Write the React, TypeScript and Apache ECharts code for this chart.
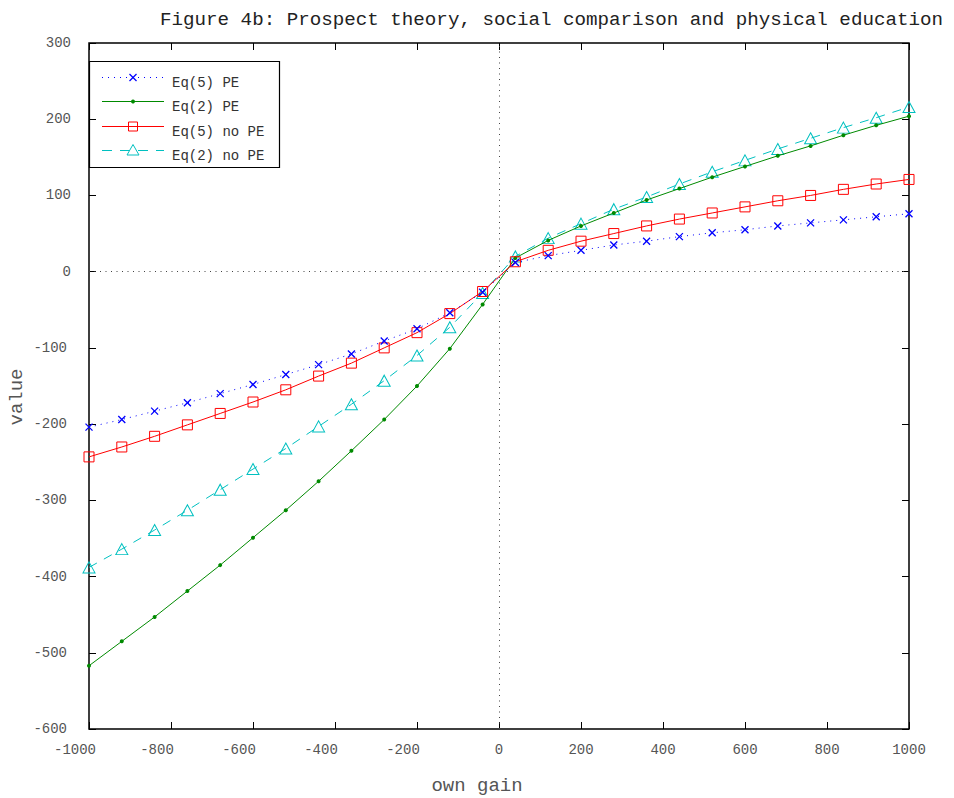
import React, { useEffect, useRef } from "react";
import * as echarts from "echarts";

const xValues = [-1000, -920, -840, -760, -680, -600, -520, -440, -360, -280, -200, -120, -40, 40, 120, 200, 280, 360, 440, 520, 600, 680, 760, 840, 920, 1000];
const eq5PE = [-204, -194, -183, -172, -160, -148, -135, -122, -108, -91, -75, -54, -27, 12, 21, 28, 35, 40, 46, 51, 55, 60, 64, 68, 72, 76];
const eq2PE = [-517, -485, -453, -419, -385, -349, -313, -275, -235, -194, -150, -101, -43, 18, 41, 60, 77, 94, 109, 124, 138, 152, 165, 179, 192, 204];
const eq5noPE = [-243, -230, -216, -201, -186, -171, -155, -137, -120, -100, -80, -55, -26, 13, 28, 40, 50, 60, 69, 77, 85, 93, 100, 108, 115, 121];
const eq2noPE = [-388, -364, -339, -313, -286, -259, -232, -203, -174, -143, -110, -73, -28, 20, 44, 63, 82, 98, 115, 131, 146, 161, 175, 189, 202, 216];
const seriesNames = ["Eq(5) PE", "Eq(2) PE", "Eq(5) no PE", "Eq(2) no PE"];
const titleText = "Figure 4b: Prospect theory, social comparison and physical education";
const xName = "own gain";
const yName = "value";

const FONT = "'Liberation Mono', 'DejaVu Sans Mono', monospace";
const BLUE = "#0000ff";
const GREEN = "#008a00";
const RED = "#ff0000";
const CYAN = "#00c0c0";

const pairs = (ys: number[]) => xValues.map((x, i) => [x, ys[i]]);

export default function App() {
  const ref = useRef<HTMLDivElement>(null);
  useEffect(() => {
    if (!ref.current) return;
    const chart = echarts.init(ref.current, null, { renderer: "svg" });
    const labelBase = { fontFamily: FONT, fontSize: 14, color: "#555" };
    const tick = { show: true, inside: true, length: 7, lineStyle: { color: "#000", width: 1 } };
    const noLine = { show: false, onZero: false };
    const legendRows = [77.5, 101.5, 126.5, 150.5];
    const lx1 = 102, lx2 = 164, mx = 133, tx = 172;
    const option: any = {
      animation: false,
      backgroundColor: "#fff",
      grid: {
        left: 89, right: 45, top: 43, bottom: 69,
        show: true, borderColor: "#000", borderWidth: 1.5, backgroundColor: "transparent",
      },
      xAxis: [
        {
          type: "value", min: -1000, max: 1000, interval: 200, position: "bottom",
          axisLine: noLine, axisTick: tick, splitLine: { show: false },
          axisLabel: {
            ...labelBase, margin: 14, showMinLabel: true, showMaxLabel: true,
            formatter: (v: number) => (v < 0 ? "{neg|" + v + "}" : String(v)),
            rich: { neg: { ...labelBase, padding: [0, 28, 0, 0] } },
          },
        },
        {
          type: "value", min: -1000, max: 1000, interval: 200, position: "top",
          axisLine: noLine, axisTick: tick, splitLine: { show: false }, axisLabel: { show: false },
        },
      ],
      yAxis: [
        {
          type: "value", min: -600, max: 300, interval: 100, position: "left",
          axisLine: noLine, axisTick: tick, splitLine: { show: false },
          axisLabel: {
            ...labelBase, margin: 18, showMinLabel: true, showMaxLabel: true,
            formatter: (v: number) => (v < 0 ? "{neg|" + v + "}" : String(v)),
            rich: { neg: { ...labelBase, padding: [0, 4, 0, 0] } },
          },
        },
        {
          type: "value", min: -600, max: 300, interval: 100, position: "right",
          axisLine: noLine, axisTick: tick, splitLine: { show: false }, axisLabel: { show: false },
        },
      ],
      series: [
        {
          name: seriesNames[0], type: "line", data: pairs(eq5PE),
          symbol: "path://M0 0L10 10M10 0L0 10", symbolSize: 7,
          itemStyle: { color: BLUE, borderColor: BLUE, borderWidth: 1.3 },
          lineStyle: { color: BLUE, width: 1, type: [1, 5] },
          z: 5,
          markLine: {
            silent: true, symbol: "none", label: { show: false },
            lineStyle: { color: "#444", width: 1, type: [1, 4.5] },
            data: [{ yAxis: 0 }, { xAxis: 0 }],
          },
        },
        {
          name: seriesNames[1], type: "line", data: pairs(eq2PE),
          symbol: "circle", symbolSize: 4,
          itemStyle: { color: GREEN },
          lineStyle: { color: GREEN, width: 1 },
          z: 3,
        },
        {
          name: seriesNames[2], type: "line", data: pairs(eq5noPE),
          symbol: "rect", symbolSize: 10,
          itemStyle: { color: "rgba(0,0,0,0)", borderColor: RED, borderWidth: 1 },
          lineStyle: { color: RED, width: 1 },
          z: 4,
        },
        {
          name: seriesNames[3], type: "line", data: pairs(eq2noPE),
          symbol: "triangle", symbolSize: [12, 11],
          itemStyle: { color: "rgba(0,0,0,0)", borderColor: CYAN, borderWidth: 1 },
          lineStyle: { color: CYAN, width: 1, type: [9, 8] },
          z: 2,
        },
      ],
      graphic: [
        {
          type: "text", right: 11, top: 10,
          style: { text: titleText, fontFamily: FONT, fontSize: 19.2, fill: "#222" },
        },
        {
          type: "text", x: 477, y: 786,
          style: { text: xName, fontFamily: FONT, fontSize: 19, fill: "#555", align: "center", verticalAlign: "middle" },
        },
        {
          type: "text", x: 17, y: 397, rotation: Math.PI / 2,
          style: { text: yName, fontFamily: FONT, fontSize: 19, fill: "#555", align: "center", verticalAlign: "middle" },
        },
        {
          type: "group", z: 100,
          children: [
            { type: "rect", shape: { x: 89.5, y: 61.5, width: 190, height: 106 }, style: { fill: "#fff", stroke: "#000", lineWidth: 1.2 } },
            { type: "line", shape: { x1: lx1, y1: legendRows[0], x2: lx2, y2: legendRows[0] }, style: { stroke: BLUE, lineWidth: 1, lineDash: [1, 5] } },
            { type: "line", shape: { x1: mx - 3.5, y1: legendRows[0] - 3.5, x2: mx + 3.5, y2: legendRows[0] + 3.5 }, style: { stroke: BLUE, lineWidth: 1.3 } },
            { type: "line", shape: { x1: mx + 3.5, y1: legendRows[0] - 3.5, x2: mx - 3.5, y2: legendRows[0] + 3.5 }, style: { stroke: BLUE, lineWidth: 1.3 } },
            { type: "text", x: tx, y: legendRows[0] + 5.5, style: { text: seriesNames[0], fontFamily: FONT, fontSize: 14, fill: "#333", verticalAlign: "middle" } },
            { type: "line", shape: { x1: lx1, y1: legendRows[1], x2: lx2, y2: legendRows[1] }, style: { stroke: GREEN, lineWidth: 1.2 } },
            { type: "circle", shape: { cx: mx, cy: legendRows[1], r: 2 }, style: { fill: GREEN } },
            { type: "text", x: tx, y: legendRows[1] + 5.5, style: { text: seriesNames[1], fontFamily: FONT, fontSize: 14, fill: "#333", verticalAlign: "middle" } },
            { type: "line", shape: { x1: lx1, y1: legendRows[2], x2: lx2, y2: legendRows[2] }, style: { stroke: RED, lineWidth: 1 } },
            { type: "rect", shape: { x: mx - 4.5, y: legendRows[2] - 4.5, width: 9, height: 9 }, style: { fill: "none", stroke: RED, lineWidth: 1 } },
            { type: "text", x: tx, y: legendRows[2] + 5.5, style: { text: seriesNames[2], fontFamily: FONT, fontSize: 14, fill: "#333", verticalAlign: "middle" } },
            { type: "line", shape: { x1: lx1, y1: legendRows[3], x2: lx2, y2: legendRows[3] }, style: { stroke: CYAN, lineWidth: 1, lineDash: [10, 8] } },
            { type: "polygon", shape: { points: [[mx, legendRows[3] - 6], [mx - 6, legendRows[3] + 4.5], [mx + 6, legendRows[3] + 4.5]] }, style: { fill: "#fff", stroke: CYAN, lineWidth: 1 } },
            { type: "text", x: tx, y: legendRows[3] + 5.5, style: { text: seriesNames[3], fontFamily: FONT, fontSize: 14, fill: "#333", verticalAlign: "middle" } },
          ],
        },
      ],
    };
    chart.setOption(option);
    return () => chart.dispose();
  }, []);
  return <div ref={ref} style={{ width: 954, height: 798, position: "absolute", left: 0, top: 0 }} />;
}
